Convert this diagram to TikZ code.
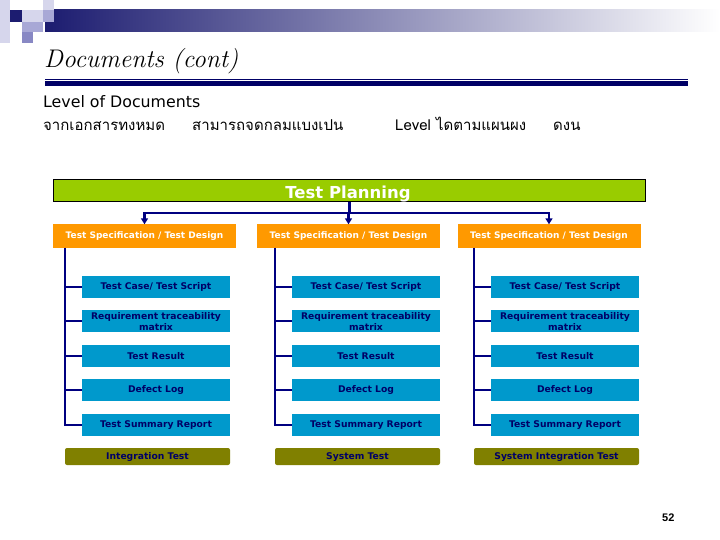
\documentclass[tikz,border=0pt]{standalone}
\usepackage{fontspec}
\newfontfamily\thaifont[Script=Thai]{Loma}
\newfontfamily\uifont{DejaVu Sans}
\newfontfamily\numfont{Liberation Sans}
\usetikzlibrary{positioning,arrows.meta}
\definecolor{cPlan}{RGB}{153,204,0}
\definecolor{cSpec}{RGB}{255,153,0}
\definecolor{cDoc}{RGB}{0,153,204}
\definecolor{cLvl}{RGB}{128,128,0}
\definecolor{cNavy}{RGB}{0,0,128}
\definecolor{cInk}{RGB}{0,0,102}
\definecolor{cBand}{RGB}{28,28,112}
\definecolor{cSq1}{RGB}{214,214,236}
\definecolor{cSq2}{RGB}{168,168,214}
\definecolor{cSq3}{RGB}{136,136,196}

\begin{document}
\begin{tikzpicture}[
  x=1pt, y=-1pt,
  plan/.style  = {draw=black, line width=0.9pt, fill=cPlan,
                  minimum width=592pt, minimum height=22pt, inner sep=0pt},
  spec/.style  = {fill=cSpec, text=white, align=center,
                  font=\uifont\bfseries\fontsize{9}{10}\selectfont,
                  text height=7pt, text depth=2pt,
                  minimum width=183pt, minimum height=23pt, inner sep=1pt},
  doc/.style   = {fill=cDoc, text=cInk, align=center,
                  font=\uifont\bfseries\fontsize{9.2}{11}\selectfont,
                  minimum width=148pt, minimum height=22pt, inner sep=1pt},
  lvl/.style   = {fill=cLvl, text=cInk, rounded corners=2pt, align=center,
                  font=\uifont\bfseries\fontsize{9.2}{10}\selectfont,
                  text height=7pt, text depth=2pt,
                  minimum width=165pt, minimum height=17pt, inner sep=1pt},
  flow/.style  = {-{Triangle[length=6pt,width=7pt]}, line width=2.5pt, cNavy},
  branch/.style= {line width=2pt, cNavy},
  txt/.style   = {anchor=base west, inner sep=0pt}
]
\useasboundingbox (0,0) rectangle (720,540);

% ----------------------------------------------------------- testata --
\shade[left color=cBand, right color=white] (45,10) rectangle (720,32);
\fill[cSq1] (0,0) rectangle (10,43);
\fill[cSq1] (43,0) rectangle (54,10);
\fill[cBand] (10,10) rectangle (22,22);
\fill[cSq1] (22,10) rectangle (43,22);
\fill[cSq2] (43,10) rectangle (54,22);
\fill[cSq2] (22,22) rectangle (43,32);
\fill[cSq3] (22,32) rectangle (33,43);

\node[txt] (title) at (44,68) {\fontsize{25.5}{28}\selectfont\itshape Documents (cont)};
\draw[cInk, line width=1.5pt] (45,79.5) -- (688,79.5);
\draw[cInk, line width=5pt]   (45,84)   -- (688,84);

\node[txt] (lead) at (43,108) {\uifont\fontsize{15.8}{18}\selectfont Level of Documents};
\node[txt] (th1) at (43,131)  {\thaifont\fontsize{15}{18}\selectfont จากเอกสารทงหมด};
\node[txt] (th2) at (192,131) {\thaifont\fontsize{15}{18}\selectfont สามารถจดกลมแบงเปน};
\node[txt] (th3) at (395,131) {\thaifont\fontsize{15}{18}\selectfont Level ไดตามแผนผง};
\node[txt] (th4) at (553,131) {\thaifont\fontsize{15}{18}\selectfont ดงน};

% ------------------------------------------------------- Test Planning --
\node[plan] (plan) at (349.5,190.5) {};
\node[anchor=base, inner sep=0pt, text=white,
      font=\uifont\bfseries\fontsize{16.5}{18}\selectfont] (plantxt) at (348,198.5) {Test Planning};

\node[spec] (spec1) at (144.5,236) {Test Specification / Test Design};
\node[spec] (spec2) at (348.5,236) {Test Specification / Test Design};
\node[spec] (spec3) at (549,236)   {Test Specification / Test Design};

\coordinate (hub) at ([yshift=-11pt]plan.south);
\draw[branch, line width=2.5pt] (plan.south) -- (hub);
\draw[flow] (hub) -| (spec1.north);
\draw[flow] (hub) -| (spec2.north);
\draw[flow] (hub) -| (spec3.north);

% ---------------------------------------------------------- colonna 1 --
\node[doc] (case1) at (156,287)     {Test Case/ Test Script};
\node[doc, below=12pt of case1] (rtm1) {Requirement traceability\\matrix};
\node[doc, below=12pt of rtm1]  (res1) {Test Result};
\node[doc, below=12pt of res1]  (log1) {Defect Log};
\node[doc, below=12pt of log1]  (sum1) {Test Summary Report};
\node[lvl, below=12pt of sum1.south east, anchor=north east] (lvl1) {Integration Test};

% ---------------------------------------------------------- colonna 2 --
\node[doc] (case2) at (366,287)     {Test Case/ Test Script};
\node[doc, below=12pt of case2] (rtm2) {Requirement traceability\\matrix};
\node[doc, below=12pt of rtm2]  (res2) {Test Result};
\node[doc, below=12pt of res2]  (log2) {Defect Log};
\node[doc, below=12pt of log2]  (sum2) {Test Summary Report};
\node[lvl, below=12pt of sum2.south east, anchor=north east] (lvl2) {System Test};

% ---------------------------------------------------------- colonna 3 --
\node[doc] (case3) at (565,287)     {Test Case/ Test Script};
\node[doc, below=12pt of case3] (rtm3) {Requirement traceability\\matrix};
\node[doc, below=12pt of rtm3]  (res3) {Test Result};
\node[doc, below=12pt of res3]  (log3) {Defect Log};
\node[doc, below=12pt of log3]  (sum3) {Test Summary Report};
\node[lvl, below=12pt of sum3.south east, anchor=north east] (lvl3) {System Integration Test};

% ------------------------------------------------------------- spine --
\coordinate (sp1) at ([xshift=-17pt]sum1.west);
\coordinate (sp2) at ([xshift=-17pt]sum2.west);
\coordinate (sp3) at ([xshift=-17pt]sum3.west);

\draw[branch] (sp1 |- spec1.south) |- (sum1.west);
\draw[branch] (sp1 |- case1.west) -- (case1.west);
\draw[branch] (sp1 |- rtm1.west)  -- (rtm1.west);
\draw[branch] (sp1 |- res1.west)  -- (res1.west);
\draw[branch] (sp1 |- log1.west)  -- (log1.west);

\draw[branch] (sp2 |- spec2.south) |- (sum2.west);
\draw[branch] (sp2 |- case2.west) -- (case2.west);
\draw[branch] (sp2 |- rtm2.west)  -- (rtm2.west);
\draw[branch] (sp2 |- res2.west)  -- (res2.west);
\draw[branch] (sp2 |- log2.west)  -- (log2.west);

\draw[branch] (sp3 |- spec3.south) |- (sum3.west);
\draw[branch] (sp3 |- case3.west) -- (case3.west);
\draw[branch] (sp3 |- rtm3.west)  -- (rtm3.west);
\draw[branch] (sp3 |- res3.west)  -- (res3.west);
\draw[branch] (sp3 |- log3.west)  -- (log3.west);

\node[txt] (page) at (662,521) {\numfont\bfseries\fontsize{11}{12}\selectfont 52};
\end{tikzpicture}
\end{document}
